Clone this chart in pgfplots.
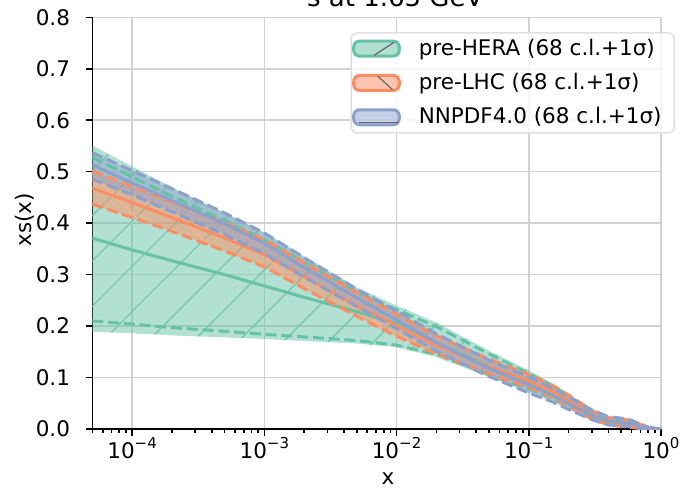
\documentclass[border=0pt]{standalone}
\usepackage{fontspec}
\setmainfont{DejaVu Sans}
\usepackage{pgfplots}
\pgfplotsset{compat=1.18}
\usepackage{pgfplotstable}
\usepgfplotslibrary{fillbetween}
\usetikzlibrary{patterns.meta}

\definecolor{cH}{HTML}{66C2A5}
\definecolor{cL}{HTML}{FC8D62}
\definecolor{cN}{HTML}{8DA0CB}

% pre-HERA: band top, dashed upper, central, dashed lower, band bottom
\pgfplotstableread{
x      t      u      c      l      b
5e-5   0.551  0.528  0.371  0.210  0.189
1e-4   0.510  0.490  0.348  0.204  0.186
2e-4   0.470  0.452  0.327  0.197  0.182
5e-4   0.420  0.405  0.300  0.190  0.178
1e-3   0.382  0.368  0.278  0.184  0.175
2e-3   0.336  0.324  0.256  0.179  0.171
5e-3   0.275  0.266  0.228  0.172  0.166
1e-2   0.240  0.232  0.205  0.163  0.159
2e-2   0.207  0.199  0.168  0.145  0.140
5e-2   0.152  0.146  0.121  0.106  0.101
0.1    0.114  0.108  0.092  0.078  0.074
0.15   0.089  0.085  0.072  0.060  0.057
0.2    0.068  0.064  0.054  0.044  0.041
0.3    0.038  0.035  0.027  0.020  0.018
0.4    0.023  0.020  0.015  0.009  0.007
0.5    0.020  0.017  0.012  0.007  0.005
0.6    0.016  0.013  0.009  0.005  0.003
0.7    0.009  0.007  0.005  0.002  0.001
0.8    0.004  0.003  0.002  0.001  0.000
0.9    0.0015 0.001  0.0008 0.0002 0.000
1.0    0      0      0      0      0
}\hera

% pre-LHC: upper, central, lower
\pgfplotstableread{
x      t      c      b
5e-5   0.502  0.468  0.437
1e-4   0.471  0.440  0.411
2e-4   0.441  0.411  0.384
5e-4   0.401  0.371  0.346
1e-3   0.368  0.339  0.315
2e-3   0.323  0.296  0.273
5e-3   0.265  0.240  0.219
1e-2   0.223  0.201  0.180
2e-2   0.181  0.163  0.146
5e-2   0.136  0.121  0.107
0.1    0.106  0.093  0.081
0.15   0.085  0.073  0.062
0.2    0.066  0.055  0.045
0.3    0.036  0.027  0.019
0.4    0.022  0.015  0.008
0.5    0.020  0.012  0.005
0.6    0.016  0.009  0.003
0.7    0.009  0.005  0.001
0.8    0.004  0.002  0.000
0.9    0.0015 0.0007 0.000
1.0    0      0      0
}\lhc

% NNPDF4.0: upper, central, lower
\pgfplotstableread{
x      t      c      b
5e-5   0.537  0.513  0.486
1e-4   0.502  0.478  0.455
2e-4   0.467  0.444  0.422
5e-4   0.420  0.399  0.378
1e-3   0.381  0.361  0.341
2e-3   0.333  0.314  0.295
5e-3   0.272  0.255  0.238
1e-2   0.229  0.212  0.195
2e-2   0.185  0.168  0.151
5e-2   0.134  0.118  0.102
0.1    0.101  0.086  0.070
0.15   0.080  0.066  0.053
0.2    0.062  0.049  0.038
0.3    0.037  0.027  0.018
0.4    0.024  0.016  0.008
0.5    0.021  0.013  0.006
0.6    0.017  0.010  0.004
0.7    0.009  0.005  0.001
0.8    0.004  0.002  0.000
0.9    0.0015 0.0007 0.000
1.0    0      0      0
}\nnpdf

\newcommand\tp[1]{10\raisebox{0.45em}{\fontsize{7.5}{9}\selectfont #1}}

\begin{document}
\begin{tikzpicture}[font=\fontsize{10.75}{12.9}\selectfont]
\begin{axis}[
  at={(46.15pt,30pt)}, anchor=south west,
  scale only axis, width=284.35pt, height=205.85pt,
  xmode=log, xmin=5e-5, xmax=1, ymin=0, ymax=0.8,
  axis x line*=bottom, axis y line*=left,
  axis line style={-, line width=0.8pt},
  tick align=outside,
  major tick length=3.3pt, minor tick length=1.8pt,
  every tick/.style={black, line width=0.8pt},
  xtick={1e-4,1e-3,1e-2,1e-1,1},
  xticklabels={\tp{−4},\tp{−3},\tp{−2},\tp{−1},\tp{0}},
  minor xtick={5e-5,6e-5,7e-5,8e-5,9e-5,
    2e-4,3e-4,4e-4,5e-4,6e-4,7e-4,8e-4,9e-4,
    2e-3,3e-3,4e-3,5e-3,6e-3,7e-3,8e-3,9e-3,
    2e-2,3e-2,4e-2,5e-2,6e-2,7e-2,8e-2,9e-2,
    0.2,0.3,0.4,0.5,0.6,0.7,0.8,0.9},
  ytick={0,0.1,...,0.8},
  yticklabel={\pgfmathprintnumber[fixed,fixed zerofill,precision=1,assume math mode=true]{\tick}},
  xticklabel style={anchor=base, inner sep=0pt},
  xticklabel shift=11.35pt,
  yticklabel style={anchor=east, inner sep=0pt},
  yticklabel shift=7.65pt,
  grid=major,
  major grid style={gray!35, line width=0.8pt},
  xlabel={x}, ylabel={xs(x)},
  xlabel style={at={(axis description cs:0.52,-0.12)}, anchor=center},
  ylabel style={at={(axis description cs:-0.1183,0.5077)}, anchor=center},
  legend cell align=left,
  legend style={at={(axis description cs:1.0246,0.964)}, anchor=north east,
    draw=black!12, line width=0.8pt, rounded corners=3pt,
    fill=white, fill opacity=0.8, text opacity=1, draw opacity=1,
    inner xsep=0.5pt, inner ysep=1pt, row sep=3.5pt,
    /tikz/every odd column/.append style={column sep=7pt}},
  every axis plot/.append style={line width=1.5pt},
]
% ---- pre-HERA ----
\addplot[draw=none, name path=Ht, forget plot] table[x=x,y=t]{\hera};
\addplot[draw=none, name path=Hb, forget plot] table[x=x,y=b]{\hera};
\addplot[fill=cH, fill opacity=0.5, draw=none, forget plot] fill between[of=Ht and Hb];
\addplot[pattern={Lines[angle=45,distance=16pt,line width=0.7pt]}, pattern color=cH!90!white, draw=none, forget plot] fill between[of=Ht and Hb];
\addplot[cH, dash pattern=on 5.5pt off 2.4pt, forget plot] table[x=x,y=u]{\hera};
\addplot[cH, dash pattern=on 5.5pt off 2.4pt, forget plot] table[x=x,y=l]{\hera};
\addplot[cH, forget plot] table[x=x,y=c]{\hera};
% ---- pre-LHC ----
\addplot[draw=none, name path=Lt, forget plot] table[x=x,y=t]{\lhc};
\addplot[draw=none, name path=Lb, forget plot] table[x=x,y=b]{\lhc};
\addplot[fill=cL, fill opacity=0.5, draw=none, forget plot] fill between[of=Lt and Lb];
\addplot[pattern={Lines[angle=-45,distance=16pt,line width=0.7pt]}, pattern color=cL!70!white, draw=none, forget plot] fill between[of=Lt and Lb];
\addplot[cL, dash pattern=on 5.5pt off 2.4pt, forget plot] table[x=x,y=t]{\lhc};
\addplot[cL, dash pattern=on 5.5pt off 2.4pt, forget plot] table[x=x,y=b]{\lhc};
\addplot[cL, forget plot] table[x=x,y=c]{\lhc};
% ---- NNPDF4.0 ----
\addplot[draw=none, name path=Nt, forget plot] table[x=x,y=t]{\nnpdf};
\addplot[draw=none, name path=Nb, forget plot] table[x=x,y=b]{\nnpdf};
\addplot[fill=cN, fill opacity=0.5, draw=none, forget plot] fill between[of=Nt and Nb];
\addplot[cN, dash pattern=on 5.5pt off 2.4pt, forget plot] table[x=x,y=t]{\nnpdf};
\addplot[cN, dash pattern=on 5.5pt off 2.4pt, forget plot] table[x=x,y=b]{\nnpdf};
\addplot[cN, forget plot] table[x=x,y=c]{\nnpdf};
% ---- legend ----
\addlegendimage{legend image code/.code={
  \fill[cH, fill opacity=0.5] (0pt,-3.75pt) rectangle (22.8pt,3.75pt);
  \draw[cH, line width=0.7pt, dash pattern=on 2pt off 1.2pt] (0pt,-3.75pt) rectangle (22.8pt,3.75pt);
  \draw[black!60, line width=0.6pt] (10.3pt,-3.3pt) -- (20.3pt,3.2pt);}}
\addlegendentry{pre-HERA (68 c.l.+1σ)}
\addlegendimage{legend image code/.code={
  \fill[cL, fill opacity=0.5] (0pt,-3.75pt) rectangle (22.8pt,3.75pt);
  \draw[cL, line width=0.7pt, dash pattern=on 2pt off 1.2pt] (0pt,-3.75pt) rectangle (22.8pt,3.75pt);
  \draw[black!60, line width=0.6pt] (12pt,3.4pt) -- (19.5pt,-3.4pt);}}
\addlegendentry{pre-LHC (68 c.l.+1σ)}
\addlegendimage{legend image code/.code={
  \fill[cN, fill opacity=0.5] (0pt,-3.75pt) rectangle (22.8pt,3.75pt);
  \draw[cN, line width=0.7pt, dash pattern=on 2pt off 1.2pt] (0pt,-3.75pt) rectangle (22.8pt,3.75pt);
  \draw[black!60, line width=0.6pt] (2.6pt,-2.8pt) -- (22pt,-2.8pt);}}
\addlegendentry{NNPDF4.0 (68 c.l.+1σ)\rule{3.8pt}{0pt}}
\end{axis}
\node[anchor=base west, font=\fontsize{13}{15.6}\selectfont] at (150pt,241.5pt) {s at 1.65 GeV};
\pgfresetboundingbox
\useasboundingbox (0,0) rectangle (342pt,244.5pt);
\end{tikzpicture}
\end{document}
